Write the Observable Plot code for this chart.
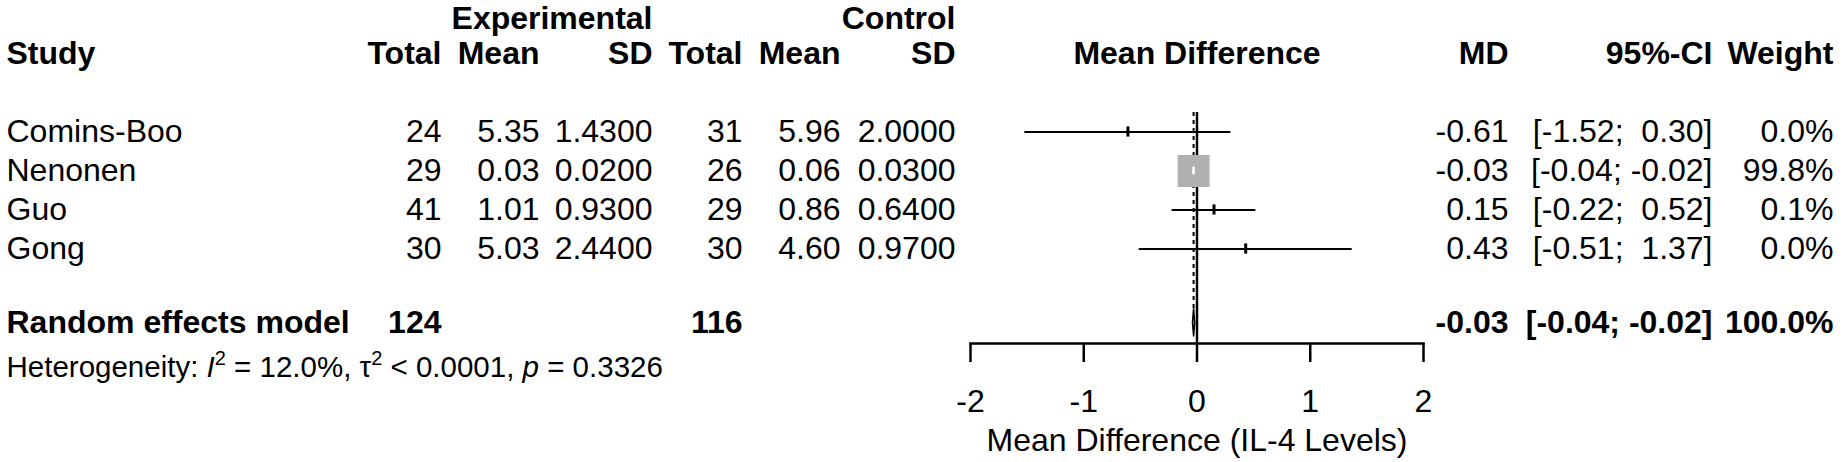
<!DOCTYPE html>
<html><head><meta charset="utf-8">
<script src="https://cdn.jsdelivr.net/npm/d3@7"></script>
<script src="https://cdn.jsdelivr.net/npm/@observablehq/plot@0.6"></script>
<style>
html,body{margin:0;padding:0;background:#fff;}
svg text{white-space:pre;}
</style></head><body><div id="chart"></div>
<script>
// ---------- data ----------
const studies   = ["Comins-Boo", "Nenonen", "Guo", "Gong"];
const expTotal  = [24, 29, 41, 30];
const expMean   = [5.35, 0.03, 1.01, 5.03];
const expSD     = [1.43, 0.02, 0.93, 2.44];
const ctrlTotal = [31, 26, 29, 30];
const ctrlMean  = [5.96, 0.06, 0.86, 4.60];
const ctrlSD    = [2.00, 0.03, 0.64, 0.97];
const md        = [-0.61, -0.03, 0.15, 0.43];
const ciLower   = [-1.52, -0.04, -0.22, -0.51];
const ciUpper   = [0.30, -0.02, 0.52, 1.37];
const weights   = [0.0, 99.8, 0.1, 0.0];

const summaryLabel = "Random effects model";
const summaryExpTotal = 124;
const summaryCtrlTotal = 116;
const summaryMD = -0.03;
const summaryLower = -0.04;
const summaryUpper = -0.02;
const summaryWeight = 100.0;
const hetText = "Heterogeneity: I2 = 12.0%, τ2 < 0.0001, p = 0.3326";

const groupLabels = ["Experimental", "Control"];
const headerLabels = ["Study", "Total", "Mean", "SD", "Total", "Mean", "SD", "Mean Difference", "MD", "95%-CI", "Weight"];
const xTicks = [-2, -1, 0, 1, 2];
const xLabel = "Mean Difference (IL-4 Levels)";

// ---------- layout ----------
const W = 1846, H = 462, FS = 32, FS_HET = 29.5;
const L = 970, R = 1423;            // plot frame
const colStudy = 6;
const colRight = {eTotal: 441, eMean: 539, eSD: 652, cTotal: 742, cMean: 840, cSD: 955, md: 1508, ci: 1712, w: 1833};
const headerRow = -2, groupRow = -2.91, topRow = -0.5;
const summaryRow = studies.length + 0.88;
const hetRow = studies.length + 2.05;
const fmt2 = v => v.toFixed(2);
const ciStr = (lo, hi) => `[${fmt2(lo).padStart(5)}; ${fmt2(hi).padStart(5)}]`;

const rows = studies.map((s, i) => ({
  study: s, row: i,
  eTotal: String(expTotal[i]), eMean: fmt2(expMean[i]), eSD: expSD[i].toFixed(4),
  cTotal: String(ctrlTotal[i]), cMean: fmt2(ctrlMean[i]), cSD: ctrlSD[i].toFixed(4),
  md: md[i], lower: ciLower[i], upper: ciUpper[i], weight: weights[i],
  mdStr: fmt2(md[i]), ciStr: ciStr(ciLower[i], ciUpper[i]), wStr: weights[i].toFixed(1) + "%"
}));
const big = rows.filter(d => d.weight >= 1);
const small = rows.filter(d => d.weight < 1);

const base = {frameAnchor: "left", lineAnchor: "middle", fontSize: FS, fill: "black"};
const col = (data, text, px, extra = {}) =>
  Plot.text(data, {...base, y: "row", text, dx: px - L, textAnchor: "end", ...extra});
const cell = (text, px, row, extra = {}) =>
  Plot.text([{row, text}], {...base, y: "row", text: "text", dx: px - L, textAnchor: "end", ...extra});

const diamond = [
  {x: summaryLower, y: summaryRow}, {x: summaryMD, y: summaryRow - 0.35},
  {x: summaryUpper, y: summaryRow}, {x: summaryMD, y: summaryRow + 0.35},
  {x: summaryLower, y: summaryRow}
];
const bold = {fontWeight: "bold"};

const chart = Plot.plot({
  width: W, height: H,
  marginLeft: L, marginRight: W - R, marginTop: 112, marginBottom: H - 343,
  style: {fontFamily: "'Liberation Sans', Arial, Helvetica, sans-serif", fontSize: FS + "px", background: "#fff", color: "black"},
  x: {domain: [xTicks[0], xTicks[xTicks.length - 1]]},
  y: {type: "linear", domain: [0, 1], range: [131.5, 170.5], axis: null},
  r: {type: "sqrt", domain: [0, 100], range: [0, 18]},
  marks: [
    // group headers
    cell(groupLabels[0], colRight.eSD, groupRow, bold),
    cell(groupLabels[1], colRight.cSD, groupRow, bold),
    // column headers
    cell(headerLabels[0], colStudy, headerRow, {...bold, textAnchor: "start"}),
    cell(headerLabels[1], colRight.eTotal, headerRow, bold),
    cell(headerLabels[2], colRight.eMean, headerRow, bold),
    cell(headerLabels[3], colRight.eSD, headerRow, bold),
    cell(headerLabels[4], colRight.cTotal, headerRow, bold),
    cell(headerLabels[5], colRight.cMean, headerRow, bold),
    cell(headerLabels[6], colRight.cSD, headerRow, bold),
    Plot.text([{row: headerRow, text: headerLabels[7]}], {...base, ...bold, frameAnchor: "middle", y: "row", text: "text", textAnchor: "middle"}),
    cell(headerLabels[8], colRight.md, headerRow, bold),
    cell(headerLabels[9], colRight.ci, headerRow, bold),
    cell(headerLabels[10], colRight.w, headerRow, bold),
    // study rows
    col(rows, "study", colStudy, {textAnchor: "start"}),
    col(rows, "eTotal", colRight.eTotal),
    col(rows, "eMean", colRight.eMean),
    col(rows, "eSD", colRight.eSD),
    col(rows, "cTotal", colRight.cTotal),
    col(rows, "cMean", colRight.cMean),
    col(rows, "cSD", colRight.cSD),
    col(rows, "mdStr", colRight.md),
    col(rows, "ciStr", colRight.ci),
    col(rows, "wStr", colRight.w),
    // summary row
    cell(summaryLabel, colStudy, summaryRow, {...bold, textAnchor: "start"}),
    cell(String(summaryExpTotal), colRight.eTotal, summaryRow, bold),
    cell(String(summaryCtrlTotal), colRight.cTotal, summaryRow, bold),
    cell(fmt2(summaryMD), colRight.md, summaryRow, bold),
    cell(ciStr(summaryLower, summaryUpper), colRight.ci, summaryRow, bold),
    cell(summaryWeight.toFixed(1) + "%", colRight.w, summaryRow, bold),
    cell(hetText, colStudy, hetRow, {textAnchor: "start", fontSize: FS_HET}),
    // reference lines
    Plot.ruleX([0], {stroke: "black", strokeWidth: 2.5}),
    Plot.ruleX([summaryMD], {y1: topRow, y2: summaryRow - 0.35, stroke: "black", strokeWidth: 2, strokeDasharray: "4,4"}),
    // CIs, squares, ticks
    Plot.ruleY(rows, {y: "row", x1: "lower", x2: "upper", stroke: "black", strokeWidth: 2}),
    Plot.dot(big, {x: "md", y: "row", r: "weight", symbol: "square", fill: "#b0b0b0", stroke: "none"}),
    Plot.ruleY(big, {y: "row", x1: "lower", x2: "upper", stroke: "white", strokeWidth: 2}),
    Plot.ruleX(small, {x: "md", y1: d => d.row - 0.13, y2: d => d.row + 0.13, stroke: "black", strokeWidth: 3}),
    Plot.ruleX(big, {x: "md", y1: d => d.row - 0.1, y2: d => d.row + 0.1, stroke: "white", strokeWidth: 2.5}),
    // diamond
    Plot.line(diamond, {x: "x", y: "y", fill: "#b0b0b0", stroke: "black", strokeWidth: 1.5}),
    // axis
    Plot.frame({anchor: "bottom", stroke: "black", strokeWidth: 2.5}),
    Plot.axisX({ticks: xTicks, tickFormat: d => String(d), tickSize: 19, tickPadding: 27, fontSize: FS, strokeWidth: 2.5, stroke: "black", fill: "black", label: null}),
    Plot.text([xLabel], {frameAnchor: "bottom", dy: 97, lineAnchor: "middle", fontSize: FS, fill: "black"})
  ]
});
document.getElementById("chart").appendChild(chart);

// superscripts / italics in heterogeneity line
const het = [...chart.querySelectorAll("text")].find(t => t.textContent === hetText);
if (het) {
  const NS = "http://www.w3.org/2000/svg";
  const parts = [["Heterogeneity: ", ""], ["I", "it"], ["2", "sup"], [" = 12.0%, τ", ""], ["2", "sup"], [" < 0.0001, ", ""], ["p", "it"], [" = 0.3326", ""]];
  het.textContent = "";
  let shifted = false;
  for (const [s, kind] of parts) {
    const ts = document.createElementNS(NS, "tspan");
    ts.textContent = s;
    if (kind === "it") ts.setAttribute("font-style", "italic");
    if (kind === "sup") { ts.setAttribute("font-size", "20"); ts.setAttribute("dy", "-12"); shifted = true; }
    else if (shifted) { ts.setAttribute("dy", "12"); shifted = false; }
    het.appendChild(ts);
  }
}
</script></body></html>
